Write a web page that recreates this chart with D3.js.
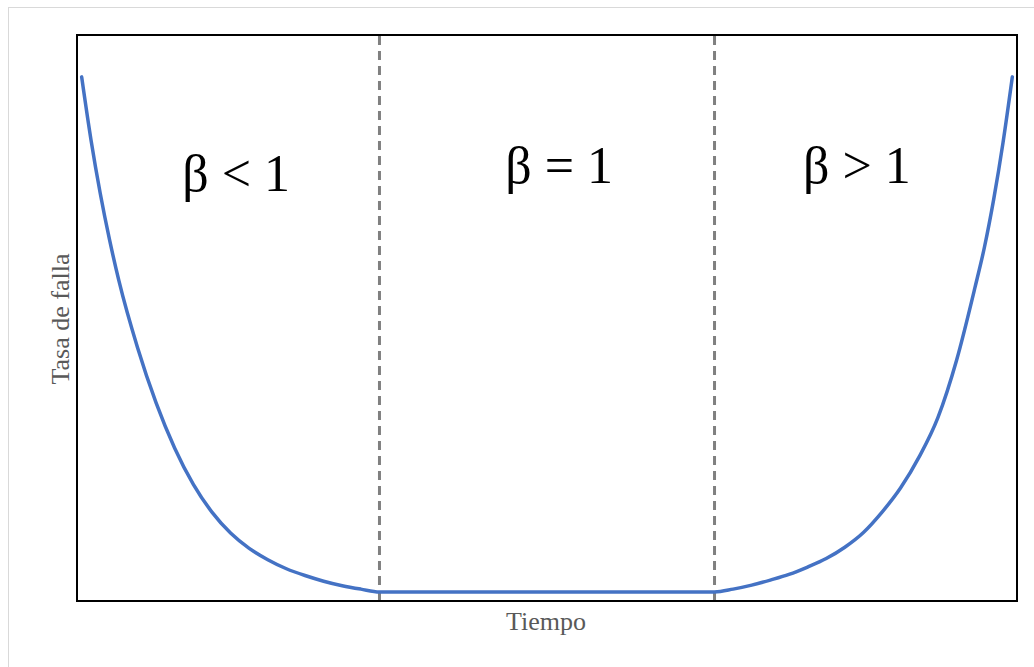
<!DOCTYPE html>
<html>
<head>
<meta charset="utf-8">
<script src="https://cdn.jsdelivr.net/npm/d3@7"></script>
<style>
    body { margin: 0; background: #fff; }
    text { font-family: "Times New Roman", "Liberation Serif", serif; }
</style>
</head>
<body>
<div id="chart"></div>
<script>
// failure rate (time 0..100, rate 0..100)
const earlyTime = [0, 1, 2, 3, 4, 6, 8, 10, 12, 14, 16, 18, 20, 22, 24, 26, 28, 30, 32];
const earlyRate = [92.6, 81.5, 72, 63.8, 56.6, 44.8, 35, 27, 20.6, 15.7, 12, 9.3, 7.3, 5.7, 4.5, 3.5, 2.7, 2.1, 1.6];
const wearTime = [68, 70, 72, 74, 76, 78, 80, 82, 84, 86, 88, 90, 92, 94, 96, 97, 98, 99, 100];
const wearRate = [1.6, 2.1, 2.8, 3.7, 4.7, 6.0, 7.5, 9.5, 12.1, 15.7, 20, 25.5, 32.4, 42.5, 55.5, 62.5, 71, 81, 92.6];

const dividers = [32, 68];
const regionLabels = ["β < 1", "β = 1", "β > 1"];
const labelTime = [16.6, 51.3, 83.3];
const labelRate = [72.4, 73.9, 73.9];

const W = 1034, H = 667;
const margin = { top: 35, right: 17, bottom: 66, left: 77 };
const width = W - margin.left - margin.right;
const height = H - margin.top - margin.bottom;

const svg = d3.select("#chart").append("svg")
    .attr("width", W)
    .attr("height", H);

// outer chart frame
svg.append("rect")
    .attr("x", 8.5).attr("y", 7.5)
    .attr("width", W + 20).attr("height", H + 20)
    .attr("fill", "none")
    .attr("stroke", "#d9d9d9");

const g = svg.append("g")
    .attr("transform", `translate(${margin.left}, ${margin.top})`);

const x = d3.scaleLinear().domain([-0.5, 100.5]).range([0, width]);
const y = d3.scaleLinear().domain([0, 100]).range([height, 0]);

const points = earlyTime.map((t, i) => [t, earlyRate[i]])
    .concat(wearTime.map((t, i) => [t, wearRate[i]]));

// dashed dividers
g.selectAll(".divider")
    .data(dividers)
    .enter().append("line")
    .attr("class", "divider")
    .attr("x1", d => x(d)).attr("x2", d => x(d))
    .attr("y1", 1).attr("y2", height)
    .attr("stroke", "#808080")
    .attr("stroke-width", 3)
    .attr("stroke-dasharray", "9,6");

const line = d3.line()
    .x(d => x(d[0]))
    .y(d => y(d[1]))
    .curve(d3.curveMonotoneX);

g.append("path")
    .datum(points)
    .attr("d", line)
    .attr("fill", "none")
    .attr("stroke", "#4472c4")
    .attr("stroke-width", 3.5)
    .attr("stroke-linecap", "round");

// plot frame
g.append("rect")
    .attr("width", width).attr("height", height)
    .attr("fill", "none")
    .attr("stroke", "#000")
    .attr("stroke-width", 2);

g.selectAll(".region-label")
    .data(regionLabels)
    .enter().append("text")
    .attr("class", "region-label")
    .attr("x", (d, i) => x(labelTime[i]))
    .attr("y", (d, i) => y(labelRate[i]))
    .attr("text-anchor", "middle")
    .attr("font-size", 52)
    .attr("fill", "#000")
    .text(d => d);

// axis titles
svg.append("text")
    .attr("x", 546).attr("y", 630)
    .attr("text-anchor", "middle")
    .attr("font-size", 26)
    .attr("fill", "#595959")
    .text("Tiempo");

svg.append("text")
    .attr("transform", "translate(69, 319) rotate(-90)")
    .attr("text-anchor", "middle")
    .attr("font-size", 26)
    .attr("fill", "#595959")
    .text("Tasa de falla");
</script>
</body>
</html>
